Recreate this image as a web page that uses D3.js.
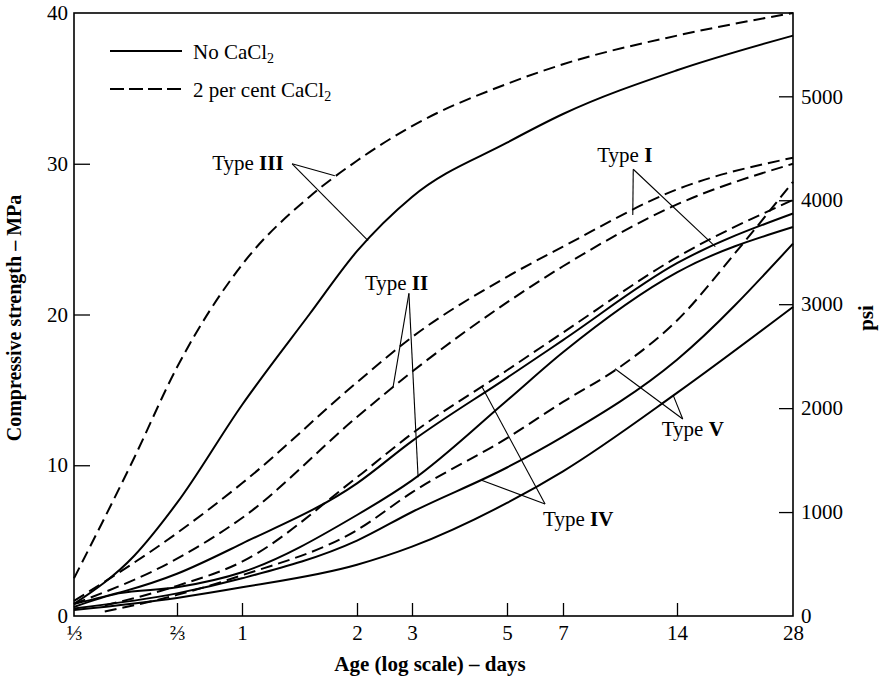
<!DOCTYPE html>
<html><head><meta charset="utf-8">
<script src="https://cdn.jsdelivr.net/npm/d3@7"></script>
<style>body{margin:0;background:#fff}svg{display:block}</style>
</head><body>
<script>
// ---- data (age in days, strength in MPa) ----
const xTickDays = [1/3, 2/3, 1, 2, 3, 5, 7, 14, 28];
const xTickLabels = ["⅓", "⅔", "1", "2", "3", "5", "7", "14", "28"];
const mpaTicks = [0, 10, 20, 30, 40];
const psiTicks = [0, 1000, 2000, 3000, 4000, 5000];

const type3Dashed = [[1/3,2.5],[0.5,10.5],[2/3,16.5],[1,23.3],[1.5,27.8],[2,30.2],[3,32.5],[5,35.3],[7,36.6],[14,38.5],[28,40]];
const type3Solid  = [[1/3,0.8],[0.5,4],[2/3,7.5],[1,14],[1.5,20],[2,24.2],[3,27.8],[5,31.4],[7,33.3],[14,36.2],[28,38.5]];
const type1Dashed = [[1/3,1],[2/3,5.5],[1,8.8],[2,15.5],[3,18.5],[5,22.5],[7,24.5],[14,28.3],[28,30.4]];
const type1Solid  = [[1/3,0.8],[2/3,2.8],[1,4.8],[2,8.8],[3,11.6],[5,15.8],[7,18.3],[14,23.4],[28,26.7]];
const type2Dashed = [[1/3,0.8],[2/3,3.8],[1,6.5],[2,13.2],[3,16.2],[5,20.8],[7,23.2],[14,27.3],[28,30]];
const type2Solid  = [[1/3,0.6],[0.45,1.5],[2/3,1.9],[1,2.9],[2,6.7],[3,9.0],[5,14.3],[7,17.5],[14,22.8],[28,25.8]];
const type4Dashed = [[0.41,0.7],[2/3,2],[1,3.6],[2,9.2],[3,12.1],[5,16.3],[7,18.8],[14,23.8],[28,27.6]];
const type4Solid  = [[1/3,0.5],[2/3,1.5],[1,2.5],[2,5.0],[3,6.9],[5,9.85],[7,11.9],[14,17.0],[28,24.7]];
const type5Dashed = [[0.41,0.3],[2/3,1.4],[1,2.7],[2,5.7],[3,8.2],[5,11.8],[7,14.2],[10,16.6],[14,19.6],[20,24.2],[28,28.8]];
const type5Solid  = [[1/3,0.4],[2/3,1.2],[1,1.9],[2,3.4],[3,4.6],[5,7.5],[7,9.6],[14,14.8],[28,20.5]];

const dashedSeries = [type3Dashed, type1Dashed, type2Dashed, type4Dashed, type5Dashed];
const solidSeries  = [type3Solid, type1Solid, type2Solid, type4Solid, type5Solid];

// type labels: text position (day, MPa), leader start offset (px from text origin), leader targets (day, MPa)
const typeLabels = [
  {bold:"III", at:[0.83,29.6], from:[80,-6],  targets:[[1.75,29.2],[2.17,24.9]]},
  {bold:"II",  at:[2.12,21.6], from:[44,3],   targets:[[2.61,15.2],[3.1,9.2]]},
  {bold:"I",   at:[8.62,30.1], from:[36,7],   targets:[[10.7,26.6],[17.6,24.5]]},
  {bold:"IV",  at:[6.21,5.97], from:[2,-22],  targets:[[4.37,15.2],[4.36,9.0]]},
  {bold:"V",   at:[12.76,11.94], from:[21,-17], targets:[[9.6,16.4],[13.7,14.6]]}
];

const W = 883, H = 676;
const FONT = "'Liberation Serif', 'Times New Roman', serif";
const svg = d3.select("body").append("svg").attr("width", W).attr("height", H)
  .style("font-family", FONT);

const x = d3.scaleLog().domain(xTickDays).range([74,177,242,357,412,507,563,677,793]);
const y = d3.scaleLinear().domain([0,40]).range([616,13]);
const yPsi = d3.scaleLinear().domain([0, 40*145.038]).range([616,13]);

const line = d3.line().x(d=>x(d[0])).y(d=>y(d[1])).curve(d3.curveMonotoneX);

// frame
svg.append("rect").attr("x",x(1/3)).attr("y",y(40)).attr("width",x(28)-x(1/3)).attr("height",y(0)-y(40))
  .attr("fill","none").attr("stroke","#000").attr("stroke-width",1.6);

function styleAxis(g){
  g.select(".domain").remove();
  g.selectAll("text").attr("font-size",21).attr("font-family",FONT).attr("fill","#000");
  g.selectAll("line").attr("stroke","#000").attr("stroke-width",1.3);
}
const gx = svg.append("g").attr("transform",`translate(0,${y(0)})`)
  .call(d3.axisBottom(x).tickValues(xTickDays).tickFormat((d,i)=>xTickLabels[i]).tickSizeInner(-13).tickSizeOuter(0).tickPadding(9));
styleAxis(gx);
gx.selectAll(".tick").filter(d=>d===1/3||d===28).select("line").remove();

const gy = svg.append("g").attr("transform",`translate(${x(1/3)},0)`)
  .call(d3.axisLeft(y).tickValues(mpaTicks).tickSizeInner(-16).tickSizeOuter(0).tickPadding(6));
styleAxis(gy);
gy.selectAll(".tick").filter(d=>d===0||d===40).select("line").remove();

const gr = svg.append("g").attr("transform",`translate(${x(28)},0)`)
  .call(d3.axisRight(yPsi).tickValues(psiTicks).tickFormat(d3.format("d")).tickSizeInner(-14).tickSizeOuter(0).tickPadding(8));
styleAxis(gr);
gr.selectAll(".tick").filter(d=>d===0).select("line").remove();

// curves
svg.append("g").selectAll("path").data(solidSeries).join("path")
  .attr("d", line).attr("fill","none").attr("stroke","#000").attr("stroke-width",2);
svg.append("g").selectAll("path").data(dashedSeries).join("path")
  .attr("d", line).attr("fill","none").attr("stroke","#000").attr("stroke-width",2)
  .attr("stroke-dasharray","12,6");

// type labels with leaders
typeLabels.forEach(l=>{
  const tx = x(l.at[0]), ty = y(l.at[1]);
  const t = svg.append("text").attr("x",tx).attr("y",ty).attr("font-size",21).attr("fill","#000");
  t.append("tspan").text("Type ");
  t.append("tspan").attr("font-weight","bold").text(l.bold);
  l.targets.forEach(tg=>{
    svg.append("line").attr("x1",tx+l.from[0]).attr("y1",ty+l.from[1]).attr("x2",x(tg[0])).attr("y2",y(tg[1]))
      .attr("stroke","#000").attr("stroke-width",1.1);
  });
});

// legend
const lg = svg.append("g");
lg.append("line").attr("x1",110).attr("x2",182).attr("y1",51).attr("y2",51).attr("stroke","#000").attr("stroke-width",2);
lg.append("line").attr("x1",110).attr("x2",182).attr("y1",89).attr("y2",89).attr("stroke","#000").attr("stroke-width",2).attr("stroke-dasharray","14,5");
const t1 = lg.append("text").attr("x",193).attr("y",59).attr("font-size",21);
t1.append("tspan").text("No CaCl");
t1.append("tspan").attr("font-size",14).attr("dy",4).text("2");
const t2 = lg.append("text").attr("x",193).attr("y",97).attr("font-size",21);
t2.append("tspan").text("2 per cent CaCl");
t2.append("tspan").attr("font-size",14).attr("dy",4).text("2");

// axis titles
svg.append("text").attr("x",430).attr("y",671).attr("text-anchor","middle").attr("font-size",21).attr("font-weight","bold")
  .text("Age (log scale) – days");
svg.append("text").attr("transform","translate(21,318) rotate(-90)").attr("text-anchor","middle").attr("font-size",20).attr("font-weight","bold")
  .text("Compressive strength – MPa");
svg.append("text").attr("transform","translate(873,318) rotate(-90)").attr("text-anchor","middle").attr("font-size",21).attr("font-weight","bold")
  .text("psi");
</script>
</body></html>
